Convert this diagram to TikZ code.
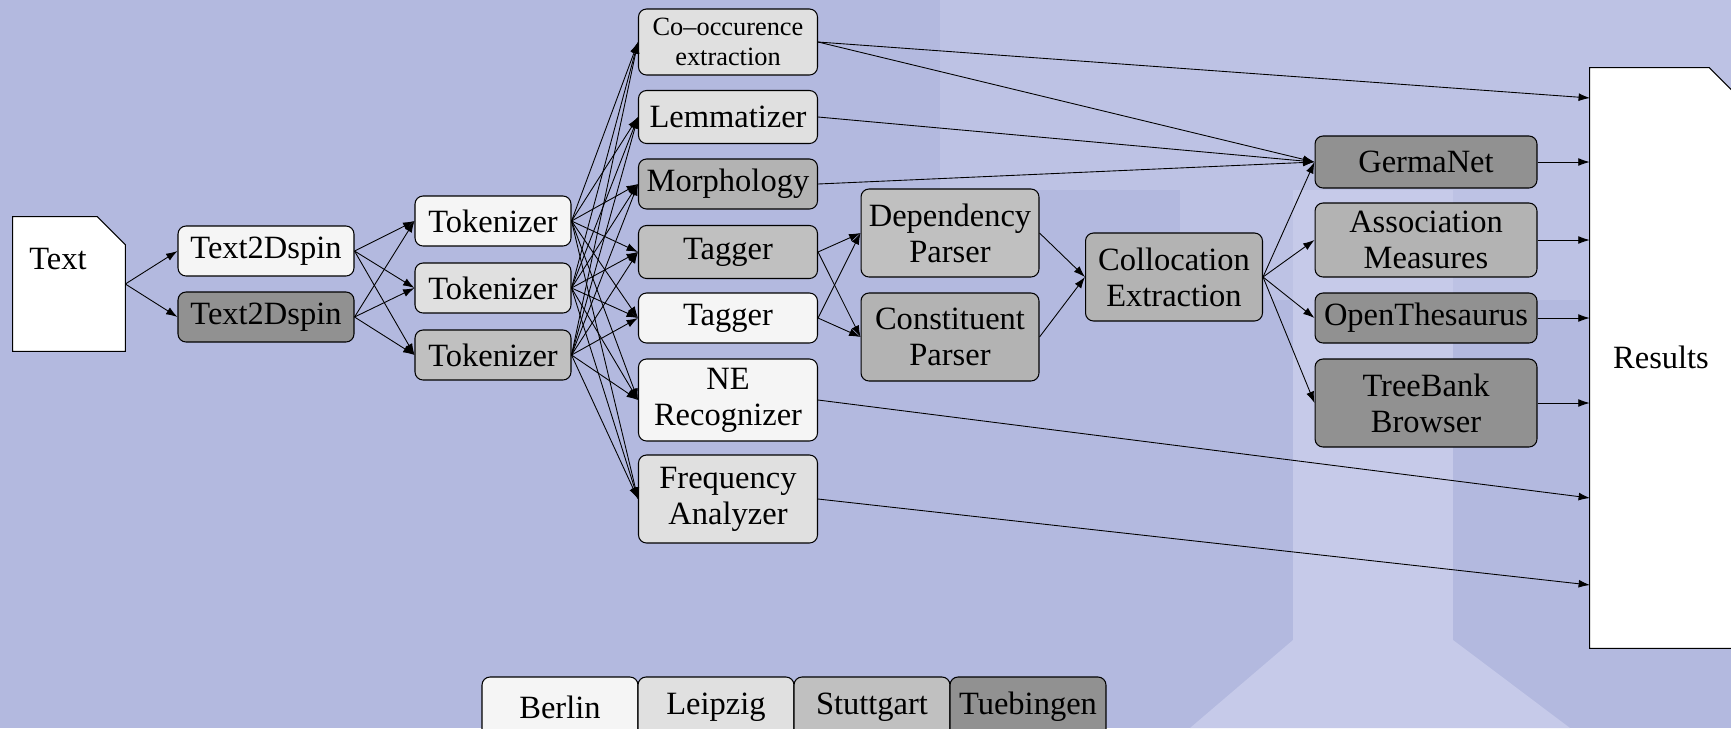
\documentclass[tikz,border=0pt]{standalone}
\usepackage{fontspec}
\setmainfont{Liberation Serif}
\usepackage{tikz}
\usetikzlibrary{arrows.meta,positioning}
\definecolor{bg}{HTML}{B3B9DF}
\definecolor{wm}{HTML}{C6CAE9}
\definecolor{berlin}{HTML}{F5F5F5}
\definecolor{leipzig}{HTML}{E0E0E0}
\definecolor{stuttgart}{HTML}{C0C0C0}
\definecolor{stuttgartdk}{HTML}{B3B3B3}
\definecolor{tuebingen}{HTML}{919191}

\begin{document}
\begin{tikzpicture}[x=0.02cm,y=-0.02cm]
\tikzset{module/.style = {shape=rectangle,draw,rounded corners=0.16cm,line width=0.6pt,align=center,inner sep=0pt,font=\fontsize{18.5}{20.5}\selectfont,minimum height=1cm}}
\tikzset{tall/.style = {minimum height=1.76cm}}
\tikzset{doclabel/.style = {inner sep=0pt,font=\fontsize{18.5}{20.5}\selectfont}}
\tikzset{edge/.style = {-{Latex[length=6.5pt,width=4.5pt]},line width=0.5pt}}
\useasboundingbox (0,0) rectangle (1731,728);
% background and watermark
\fill[bg] (0,0) rectangle (1731,728);
\fill[wm,opacity=0.55] (940,0) rectangle (1731,190);
\fill[wm,opacity=0.55] (1180,190) rectangle (1731,300);
\fill[wm] (1293,190) rectangle (1453,650);
\fill[wm] (1190,728) -- (1293,640) -- (1453,640) -- (1570,728) -- cycle;
% input document
\node[minimum width=2.24cm,minimum height=2.68cm,inner sep=0pt] (txt) at (69,284) {};
\draw[fill=white,line width=0.6pt] (txt.south west) -- (txt.north west) -- ([xshift=-0.56cm]txt.north east) -- ([yshift=-0.56cm]txt.north east) -- (txt.south east) -- cycle;
\node[doclabel] (txtlabel) at (58,259) {Text};
% converters and tokenizers
\node[module,fill=berlin,minimum width=3.52cm] (dspinA) at (266,251) {Text2Dspin};
\node[module,fill=tuebingen,minimum width=3.52cm] (dspinB) at (266,317) {Text2Dspin};
\node[module,fill=berlin,minimum width=3.12cm] (tokA) at (493,221) {Tokenizer};
\node[module,fill=leipzig,minimum width=3.12cm] (tokB) at (493,288) {Tokenizer};
\node[module,fill=stuttgart,minimum width=3.12cm] (tokC) at (493,355) {Tokenizer};
% middle column
\node[module,fill=leipzig,minimum width=3.58cm,minimum height=1.32cm,font=\fontsize{15}{17}\selectfont] (cooc) at (728,42) {Co--occurence\\extraction};
\node[module,fill=leipzig,minimum width=3.58cm,minimum height=1.06cm] (lemma) at (728,117) {Lemmatizer};
\node[module,fill=stuttgartdk,minimum width=3.58cm] (morph) at (728,184) {Morphology};
\node[module,fill=stuttgart,minimum width=3.58cm,minimum height=1.06cm] (tagA) at (728,252) {Tagger};
\node[module,fill=berlin,minimum width=3.58cm] (tagB) at (728,318) {Tagger};
\node[module,fill=berlin,minimum width=3.58cm,minimum height=1.64cm] (ner) at (728,400) {NE\\Recognizer};
\node[module,fill=leipzig,minimum width=3.58cm,tall] (freq) at (728,499) {Frequency\\Analyzer};
% parsers
\node[module,fill=stuttgart,minimum width=3.56cm,tall] (dep) at (950,233) {Dependency\\Parser};
\node[module,fill=stuttgartdk,minimum width=3.56cm,tall] (const) at (950,337) {Constituent\\Parser};
\node[module,fill=stuttgartdk,minimum width=3.54cm,tall] (colloc) at (1174,277) {Collocation\\Extraction};
% resources
\node[module,fill=tuebingen,minimum width=4.44cm,minimum height=1.04cm] (gnet) at (1426,162) {GermaNet};
\node[module,fill=stuttgartdk,minimum width=4.44cm,minimum height=1.48cm] (assoc) at (1426,240) {Association\\Measures};
\node[module,fill=tuebingen,minimum width=4.44cm] (othes) at (1426,318) {OpenThesaurus};
\node[module,fill=tuebingen,minimum width=4.44cm,tall] (tbank) at (1426,403) {TreeBank\\Browser};
% output document
\node[minimum width=2.94cm,minimum height=11.6cm,inner sep=0pt] (res) at (1663.5,358) {};
\draw[fill=white,line width=0.6pt] (res.south west) -- (res.north west) -- ([xshift=-0.56cm]res.north east) -- ([yshift=-0.56cm]res.north east) -- (res.south east) -- cycle;
\node[doclabel] (reslabel) at (1661,357) {Results};
\coordinate (resA) at (1590,98);
\coordinate (resB) at (1590,498);
\coordinate (resC) at (1590,585);
% legend
\node[module,fill=berlin,minimum width=3.12cm,minimum height=1.2cm] (berlin) at (560,707) {Berlin};
\node[module,fill=leipzig,minimum width=3.12cm,minimum height=1.2cm] (leipzig) at (716,707) {Leipzig};
\node[module,fill=stuttgart,minimum width=3.12cm,minimum height=1.2cm] (stuttgart) at (872,707) {Stuttgart};
\node[module,fill=tuebingen,minimum width=3.12cm,minimum height=1.2cm] (tuebingen) at (1028,707) {Tuebingen};
% edges
\draw[edge] (txt.east) to (dspinA.west);
\draw[edge] (txt.east) to (dspinB.west);
\foreach \d in {dspinA,dspinB}
  \foreach \t in {tokA,tokB,tokC}
    \draw[edge] (\d.east) to (\t.west);
\foreach \t in {tokA,tokB,tokC}
  \foreach \m in {cooc,lemma,morph,tagA,tagB,ner,freq}
    \draw[edge] (\t.east) to (\m.west);
\foreach \t in {tagA,tagB}
  \foreach \p in {dep,const}
    \draw[edge] (\t.east) to (\p.west);
\draw[edge] (dep.east) to (colloc.west);
\draw[edge] (const.east) to (colloc.west);
\foreach \r in {gnet,assoc,othes,tbank}
  \draw[edge] (colloc.east) to (\r.west);
\draw[edge] (cooc.east) to (gnet.west);
\draw[edge] (lemma.east) to (gnet.west);
\draw[edge] (morph.east) to (gnet.west);
\draw[edge] (cooc.east) to (resA);
\foreach \r in {gnet,assoc,othes,tbank}
  \draw[edge] (\r.east) to (\r.east -| res.west);
\draw[edge] (ner.east) to (resB);
\draw[edge] (freq.east) to (resC);
\end{tikzpicture}
\end{document}
